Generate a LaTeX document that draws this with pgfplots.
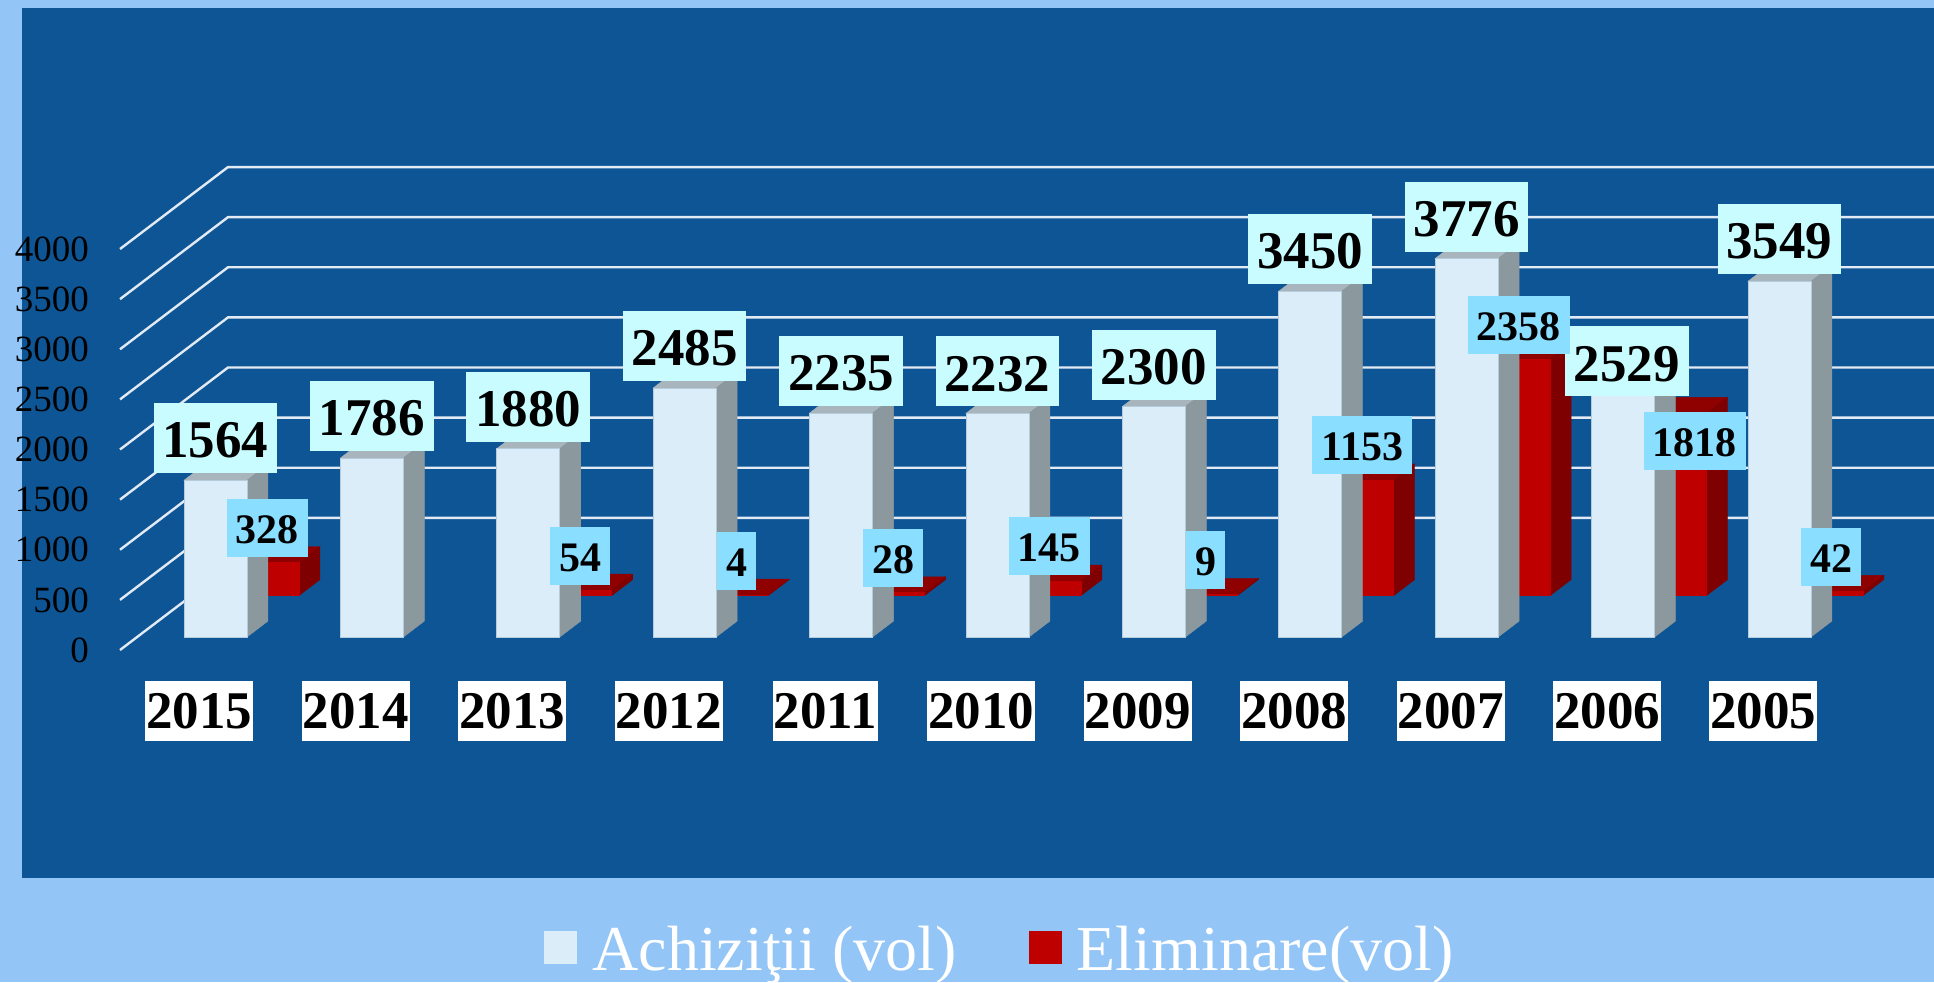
\documentclass[border=0pt]{standalone}
\usepackage{fontspec}
\setmainfont{Liberation Serif}
\usepackage{pgfplots}
\usepackage{pgfplotstable}
\pgfplotsset{compat=1.18}
\definecolor{Page}{HTML}{93C5F6}
\definecolor{Panel}{HTML}{0E5596}
\definecolor{AchFront}{HTML}{DAEDF9}
\definecolor{AchEdge}{HTML}{B4CCDC}
\definecolor{AchSide}{HTML}{8B989E}
\definecolor{AchTop}{HTML}{A9B5BC}
\definecolor{ElimFront}{HTML}{BF0000}
\definecolor{ElimSide}{HTML}{7F0000}
\definecolor{ElimTop}{HTML}{8F0000}
\definecolor{LabelA}{HTML}{C8FCFF}
\definecolor{LabelB}{HTML}{8ADEFF}

% 1 px of the reference = 0.5pt here
% lx, ly: hand moved data labels (2006 in the reference)
\pgfplotstableread{
x  v    lx    ly
0  1564 0     0
1  1786 0     0
2  1880 0     0
3  2485 0     0
4  2235 0     0
5  2232 0     0
6  2300 0     0
7  3450 0     0
8  3776 0     0
9  2529 0.025 -199
10 3549 0     0
}\achizitii
\pgfplotstableread{
x  v    lx    ly
0  328  0     0
2  54   0     0
3  4    0     0
4  28   0     0
5  145  0     0
6  9    0     0
7  1153 0     0
8  2358 0     0
9  1818 0.126 -618
10 42   0     0
}\eliminare
\pgfplotstableread{
x    y
-0.6106 0
0.0799 817.6
nan nan
-0.6106 500
0.0799 1317.6
10.9885 1317.6
nan nan
-0.6106 1000
0.0799 1817.6
10.9885 1817.6
nan nan
-0.6106 1500
0.0799 2317.6
10.9885 2317.6
nan nan
-0.6106 2000
0.0799 2817.6
10.9885 2817.6
nan nan
-0.6106 2500
0.0799 3317.6
10.9885 3317.6
nan nan
-0.6106 3000
0.0799 3817.6
10.9885 3817.6
nan nan
-0.6106 3500
0.0799 4317.6
10.9885 4317.6
nan nan
-0.6106 4000
0.0799 4817.6
10.9885 4817.6
}\gridlines

% 3D bars of one table: table, x offset, baseline, front, side, top, edge
\newcommand{\threedbars}[7]{%
  \pgfplotstablegetrowsof{#1}%
  \pgfmathtruncatemacro{\lastrow}{\pgfplotsretval-1}%
  \foreach \r in {0,...,\lastrow}{%
    \pgfplotstablegetelem{\r}{x}\of{#1}\let\cx\pgfplotsretval
    \pgfplotstablegetelem{\r}{v}\of{#1}\let\cv\pgfplotsretval
    \pgfmathsetmacro{\xl}{\cx+#2-0.2014}%
    \pgfmathsetmacro{\xr}{\cx+#2+0.2014}%
    \pgfmathsetmacro{\xlb}{\xl+0.1343}%
    \pgfmathsetmacro{\xrb}{\xr+0.1343}%
    \pgfmathsetmacro{\yb}{#3}%
    \pgfmathsetmacro{\ybb}{#3+159.5}%
    \pgfmathsetmacro{\yt}{#3+\cv}%
    \pgfmathsetmacro{\ytb}{#3+\cv+159.5}%
    \addplot[draw=#6, fill=#6, line width=0.2pt, forget plot] coordinates {(\xl,\yt) (\xr,\yt) (\xrb,\ytb) (\xlb,\ytb)} -- cycle;
    \addplot[draw=#5, fill=#5, line width=0.2pt, forget plot] coordinates {(\xr,\yb) (\xrb,\ybb) (\xrb,\ytb) (\xr,\yt)} -- cycle;
    \addplot[draw=#7, fill=#4, line width=0.4pt, forget plot] coordinates {(\xl,\yb) (\xr,\yb) (\xr,\yt) (\xl,\yt)} -- cycle;
  }%
}

\begin{document}
\begin{tikzpicture}
\path[use as bounding box] (0,0) rectangle (967pt,491pt);
\clip (0,0) rectangle (967pt,491pt);
\fill[Page] (0,0) rectangle (967pt,491pt);
\fill[Panel] (11pt,52pt) rectangle (967pt,487pt);
\begin{axis}[
  at={(60pt,166pt)}, anchor=south west,
  scale only axis, width=907pt, height=200.5pt,
  xmin=-0.6106, xmax=10.9885, ymin=0, ymax=4000,
  clip=false,
  axis line style={draw=none},
  tick style={draw=none},
  /pgf/number format/assume math mode=true,
  /pgf/number format/1000 sep={},
  scaled y ticks=false,
  ytick={0,500,...,4000},
  yticklabel style={font=\fontsize{18.5pt}{20pt}\selectfont, text=black, xshift=-12pt},
  xtick={0,...,10},
  xticklabels={2015,2014,2013,2012,2011,2010,2009,2008,2007,2006,2005},
  xticklabel style={font=\fontsize{26.5pt}{28pt}\selectfont\bfseries, text=black, fill=white,
    inner xsep=0.5pt, inner ysep=0pt, minimum height=30pt, anchor=north, xshift=-8pt, yshift=-15.5pt},
  legend columns=2,
  legend style={draw=none, fill=none, at={(209pt,-150pt)}, anchor=west,
    font=\fontsize{32pt}{34pt}\selectfont, text=white,
    /tikz/every odd column/.append style={column sep=7.6pt},
    /tikz/every even column/.append style={column sep=36pt},
    nodes={inner xsep=0pt}},
  legend cell align=left,
  legend image code/.code={\fill[#1] (0pt,-6.6pt) rectangle (16pt,9.4pt);},
]
\addplot[white!88!Panel, line width=1.2pt, forget plot, unbounded coords=jump] table[x=x, y=y] {\gridlines};

\threedbars{\eliminare}{0.3325}{543}{ElimFront}{ElimSide}{ElimTop}{ElimFront}
\threedbars{\achizitii}{0}{129}{AchFront}{AchSide}{AchTop}{AchEdge}

\addplot[draw=none, forget plot, point meta=explicit,
  nodes near coords,
  nodes near coords style={anchor=center, yshift=21pt, fill=LabelA, text=black,
    font=\fontsize{26.5pt}{28pt}\selectfont\bfseries, inner xsep=4.4pt, inner ysep=0pt,
    text height=19.7pt, text depth=0pt, minimum height=35pt}]
  table[x expr=\thisrow{x}+\thisrow{lx}, y expr=\thisrow{v}+129+\thisrow{ly}, meta=v] {\achizitii};
\addplot[draw=none, forget plot, point meta=explicit,
  nodes near coords,
  nodes near coords style={anchor=center, yshift=18pt, fill=LabelB, text=black,
    font=\fontsize{21pt}{23pt}\selectfont\bfseries, inner xsep=4.5pt, inner ysep=0pt,
    text height=15.4pt, text depth=0pt, minimum height=29pt}]
  table[x expr=\thisrow{x}+0.3325+\thisrow{lx}, y expr=\thisrow{v}+528.4+\thisrow{ly}, meta=v] {\eliminare};

\addlegendimage{AchFront}
\addlegendentry{Achiziţii (vol)}
\addlegendimage{ElimFront}
\addlegendentry{Eliminare(vol)}
\end{axis}
\end{tikzpicture}
\end{document}
